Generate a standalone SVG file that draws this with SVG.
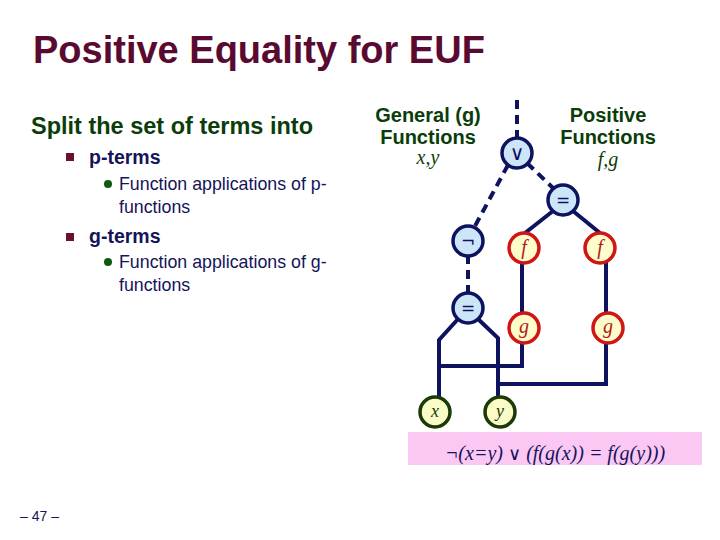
<svg xmlns="http://www.w3.org/2000/svg" width="720" height="540" viewBox="0 0 720 540">
<style>
.title{font-family:"Liberation Sans",Arial,sans-serif;font-weight:bold;font-size:38px;fill:#5a0a30}
.head{font-family:"Liberation Sans",Arial,sans-serif;font-weight:bold;font-size:23.5px;fill:#0b3d0b}
.l1{font-family:"Liberation Sans",Arial,sans-serif;font-weight:bold;font-size:19.5px;fill:#14145a}
.l2{font-family:"Liberation Sans",Arial,sans-serif;font-size:17.8px;fill:#14145a}
.lab{font-family:"Liberation Sans",Arial,sans-serif;font-weight:bold;font-size:20px;fill:#0b3d0b;text-anchor:middle}
.it{font-family:"Liberation Serif","Times New Roman",serif;font-style:italic}
.w{stroke:#0e1360;stroke-width:4;fill:none}
.d{stroke:#0e1360;stroke-width:4;fill:none;stroke-dasharray:9,6}
.logic circle{fill:#cde5f8;stroke:#0e1360;stroke-width:3.5}
.fun circle{fill:#fffccc;stroke:#d01515;stroke-width:3.5}
.var circle{fill:#fafcc8;stroke:#1c3a05;stroke-width:3.5}
.sym{font-family:"DejaVu Sans",sans-serif;font-size:17px;fill:#0e1360;text-anchor:middle}
.or{font-family:"DejaVu Serif","Noto Sans",serif;font-weight:normal}
.ftxt{font-family:"Liberation Serif",serif;font-style:italic;font-size:20px;fill:#b02020;text-anchor:middle}
.vtxt{font-family:"Liberation Serif",serif;font-style:italic;font-size:18px;fill:#1c3a05;text-anchor:middle}
</style>
<rect width="720" height="540" fill="#ffffff"/>
<text class="title" x="33" y="63">Positive Equality for EUF</text>
<g id="bullets">
<text class="head" x="31" y="134">Split the set of terms into</text>
<rect x="66" y="153" width="8" height="8" fill="#6a1035"/>
<text class="l1" x="89" y="164">p-terms</text>
<circle cx="108" cy="184" r="4" fill="#0f5a0f"/>
<text class="l2" x="119" y="190">Function applications of p-</text>
<text class="l2" x="119" y="213">functions</text>
<rect x="66" y="233" width="8" height="8" fill="#6a1035"/>
<text class="l1" x="89" y="243">g-terms</text>
<circle cx="108" cy="262" r="4" fill="#0f5a0f"/>
<text class="l2" x="119" y="268">Function applications of g-</text>
<text class="l2" x="119" y="291">functions</text>
</g>
<g id="labels">
<text class="lab" x="428" y="122">General (g)</text>
<text class="lab" x="428" y="144">Functions</text>
<text class="it" x="428" y="164" text-anchor="middle" font-size="20" fill="#0b3d0b">x,y</text>
<text class="lab" x="608" y="122">Positive</text>
<text class="lab" x="608" y="144">Functions</text>
<text class="it" x="608" y="166" text-anchor="middle" font-size="20" fill="#0b3d0b">f,g</text>
</g>
<g id="connectors">
<line class="d" x1="517" y1="100" x2="517" y2="139"/>
<line class="d" x1="527" y1="163" x2="553" y2="188"/>
<line class="d" x1="508" y1="165" x2="475" y2="226"/>
<line class="d" x1="468" y1="255" x2="468" y2="294"/>
<polyline class="w" points="553,211 525,233"/>
<polyline class="w" points="573,211 600,233"/>
<line class="w" x1="522" y1="262" x2="522" y2="313"/>
<line class="w" x1="606" y1="262" x2="606" y2="313"/>
<polyline class="w" points="458,319 439,340 439,398"/>
<polyline class="w" points="478,319 498,338 498,398"/>
<polyline class="w" points="439,366 522,366 522,342"/>
<polyline class="w" points="498,384 606,384 606,342"/>
</g>
<g id="n-or" class="logic"><circle cx="517" cy="153" r="15"/><text class="sym or" x="517" y="160" style="font-size:20px">∨</text></g>
<g id="n-eq1" class="logic"><circle cx="563" cy="200" r="15"/><text class="sym" x="563" y="206">=</text></g>
<g id="n-not" class="logic"><circle cx="468" cy="241" r="15"/><text class="sym" x="468" y="247">¬</text></g>
<g id="n-eq2" class="logic"><circle cx="468" cy="308" r="15"/><text class="sym" x="468" y="314">=</text></g>
<g id="n-f1" class="fun"><circle cx="524" cy="248" r="15"/><text class="ftxt" x="524" y="254">f</text></g>
<g id="n-f2" class="fun"><circle cx="600" cy="248" r="15"/><text class="ftxt" x="600" y="254">f</text></g>
<g id="n-g1" class="fun"><circle cx="524" cy="328" r="15"/><text class="ftxt" x="524" y="333">g</text></g>
<g id="n-g2" class="fun"><circle cx="608" cy="328" r="15"/><text class="ftxt" x="608" y="333">g</text></g>
<g id="n-x" class="var"><circle cx="435" cy="412" r="15"/><text class="vtxt" x="435" y="417">x</text></g>
<g id="n-y" class="var"><circle cx="500" cy="412" r="15"/><text class="vtxt" x="500" y="417">y</text></g>
<g id="formula">
<rect x="408" y="432" width="294" height="33" fill="#fbc8f4"/>
<text class="it" x="555" y="460" text-anchor="middle" font-size="20" fill="#14145a">¬(x=y) <tspan class="or" font-style="normal" font-size="18">∨</tspan> (f(g(x)) = f(g(y)))</text>
</g>
<text x="20" y="521" font-family="Liberation Sans,Arial,sans-serif" font-size="14" fill="#14145a">– 47 –</text>
</svg>
